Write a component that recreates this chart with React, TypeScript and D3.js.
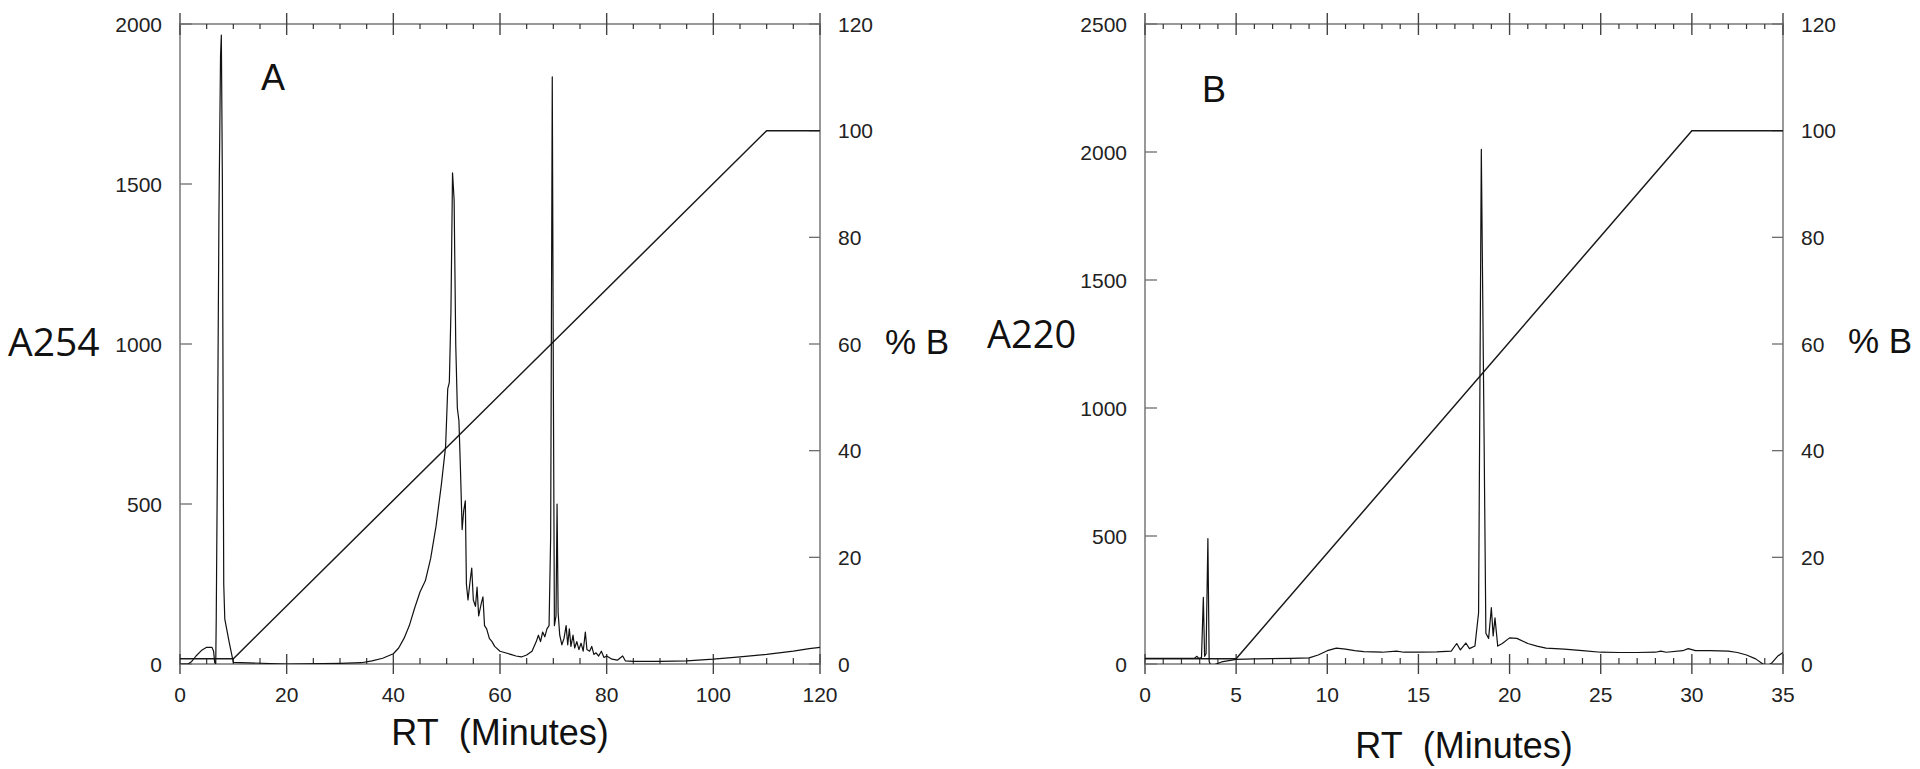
import React, { useEffect, useRef } from 'react';
import * as d3 from 'd3';

// ---- Panel A (A254, 0-120 min) ----
const timeA = [
  0, 1.5, 2.2, 3.0, 4.0, 5.0, 6.0, 6.3, 6.5, 6.7, 6.8, 7.0, 7.3, 7.6, 7.75, 7.95, 8.1, 8.2, 8.4, 9.2, 10.0,
  20, 30, 34, 36, 38, 40, 41, 42, 43, 44, 45, 46, 47, 48, 49, 49.8, 50.2, 50.5, 50.8, 51.1, 51.4, 51.7,
  52.0, 52.3, 52.6, 52.9, 53.2, 53.5, 53.7, 54.0, 54.4, 54.7, 55.0, 55.4, 55.7, 56.0, 56.5, 56.8, 57.1,
  57.5, 58.0, 58.5, 59.0, 60, 61, 62, 63, 64, 65, 66, 66.8, 67.2, 67.6, 68.0, 68.4, 68.8, 69.2, 69.5,
  69.8, 70.0, 70.2, 70.5, 70.7, 70.9, 71.2, 71.6, 72.0, 72.4, 72.7, 73.0, 73.3, 73.7, 74.0, 74.4, 74.8,
  75.2, 75.6, 76.0, 76.3, 76.8, 77.2, 77.6, 78.0, 78.5, 79.0, 79.5, 80, 81, 82, 83, 83.5, 85, 90, 95,
  100, 105, 110, 115, 118, 120,
];
const absA = [
  0, 0, 8, 25, 42, 52, 52, 40, 5, 0, 150, 600, 1400, 1900, 1965, 1500, 700, 250, 140, 70, 5,
  0, 2, 4, 10, 18, 32, 50, 80, 120, 175, 225, 260, 330, 430, 560, 680, 860, 880, 1100, 1535, 1450, 1000,
  800, 760, 600, 420, 480, 510, 250, 200, 260, 300, 200, 180, 240, 150, 190, 210, 120,
  110, 80, 70, 55, 40, 35, 30, 25, 22, 28, 40, 70, 90, 70, 100, 85, 110, 120, 400,
  1835, 900, 120, 150, 500, 160, 90, 60, 80, 120, 60, 110, 55, 90, 50, 70, 45,
  65, 40, 100, 45, 40, 55, 30, 35, 25, 40, 20, 25, 15, 12, 25, 10, 8, 8, 10,
  15, 22, 30, 40, 48, 52,
];
const gradTimeA = [0, 10, 110, 120];
const gradPctA = [1, 1, 100, 100];
const xTicksA = [0, 20, 40, 60, 80, 100, 120];
const yTicksA = [0, 500, 1000, 1500, 2000];

// ---- Panel B (A220, 0-35 min) ----
const timeB = [
  0, 2.7, 2.85, 2.95, 3.1, 3.2, 3.27, 3.35, 3.45, 3.52, 3.6, 3.8, 4.2, 5.0, 6.0, 8.0, 9.0, 9.5, 10.0,
  10.5, 11.0, 11.5, 12.0, 13.0, 13.8, 14.2, 15.0, 16.0, 16.8, 17.1, 17.3, 17.6, 17.8, 18.1, 18.3, 18.45,
  18.6, 18.7, 18.85, 19.0, 19.1, 19.2, 19.35, 19.6, 20.0, 20.4, 21.0, 21.5, 22.0, 23.0, 24.0, 25.0, 26.0,
  27.0, 28.0, 28.3, 28.6, 29.5, 29.8, 30.2, 31.0, 32.0, 32.5, 33.0, 33.5, 33.9, 34.2, 34.4, 34.7, 35.0,
];
const absB = [
  22, 22, 30, 22, 25, 260, 30, 40, 490, 10, -5, -3, 8, 18, 20, 22, 24, 35, 52,
  62, 58, 52, 48, 46, 50, 46, 46, 47, 50, 80, 55, 82, 60, 70, 200, 2010,
  900, 120, 100, 220, 110, 180, 70, 80, 102, 100, 80, 70, 62, 58, 52, 46, 45,
  45, 46, 50, 46, 52, 60, 52, 52, 50, 45, 35, 20, 0, -5, 5, 30, 45,
];
const gradTimeB = [0, 5, 30, 35];
const gradPctB = [1, 1, 100, 100];
const xTicksB = [0, 5, 10, 15, 20, 25, 30, 35];
const yTicksB = [0, 500, 1000, 1500, 2000, 2500];

const pctTicks = [0, 20, 40, 60, 80, 100, 120];

const tickFont = '"Liberation Sans", Arial, sans-serif';
const axisColor = '#6e6e6e';

function drawPanel(root, p) {
  const x = d3.scaleLinear().domain([0, p.xMax]).range([p.left, p.right]);
  const y = d3.scaleLinear().domain([0, p.yMax]).range([p.bottom, p.top]);
  const y2 = d3.scaleLinear().domain([0, 120]).range([p.bottom, p.top]);
  const g = root.append('g');

  g.append('clipPath').attr('id', 'clip-' + p.id)
    .append('rect')
    .attr('x', p.left).attr('y', p.top)
    .attr('width', p.right - p.left).attr('height', p.bottom - p.top);

  // frame
  g.append('rect')
    .attr('x', p.left).attr('y', p.top)
    .attr('width', p.right - p.left).attr('height', p.bottom - p.top)
    .attr('fill', 'none').attr('stroke', axisColor).attr('stroke-width', 1.4);

  // minor x ticks, top and bottom
  const minor = d3.range(0, p.xMax + 0.001, p.xMinor).filter(t => t % p.xMajor !== 0);
  g.selectAll('.minb').data(minor).enter().append('line')
    .attr('x1', d => x(d)).attr('x2', d => x(d))
    .attr('y1', p.bottom).attr('y2', p.bottom - 6)
    .attr('stroke', '#333').attr('stroke-width', 1.2);
  g.selectAll('.mint').data(minor).enter().append('line')
    .attr('x1', d => x(d)).attr('x2', d => x(d))
    .attr('y1', p.top).attr('y2', p.top + 5)
    .attr('stroke', '#333').attr('stroke-width', 1.2);

  // major x ticks cross the line
  g.selectAll('.majb').data(p.xTicks).enter().append('line')
    .attr('x1', d => x(d)).attr('x2', d => x(d))
    .attr('y1', p.bottom - 10).attr('y2', p.bottom + 10)
    .attr('stroke', '#444').attr('stroke-width', 1.4);
  g.selectAll('.majt').data(p.xTicks).enter().append('line')
    .attr('x1', d => x(d)).attr('x2', d => x(d))
    .attr('y1', p.top - 11).attr('y2', p.top + 11)
    .attr('stroke', '#444').attr('stroke-width', 1.4);

  // y ticks
  g.selectAll('.yl').data(p.yTicks).enter().append('line')
    .attr('x1', p.left).attr('x2', p.left + 12)
    .attr('y1', d => y(d)).attr('y2', d => y(d))
    .attr('stroke', axisColor).attr('stroke-width', 1.3);
  g.selectAll('.yr').data(pctTicks).enter().append('line')
    .attr('x1', p.right - 11).attr('x2', p.right)
    .attr('y1', d => y2(d)).attr('y2', d => y2(d))
    .attr('stroke', axisColor).attr('stroke-width', 1.3);

  // tick labels
  g.selectAll('.xlab').data(p.xTicks).enter().append('text')
    .attr('x', d => x(d)).attr('y', 702)
    .attr('text-anchor', 'middle')
    .style('font-family', tickFont).style('font-size', '21px').attr('fill', '#222')
    .text(d => d);
  g.selectAll('.ylab').data(p.yTicks).enter().append('text')
    .attr('x', p.left - 18).attr('y', d => y(d) + 7.5)
    .attr('text-anchor', 'end')
    .style('font-family', tickFont).style('font-size', '21px').attr('fill', '#222')
    .text(d => d);
  g.selectAll('.y2lab').data(pctTicks).enter().append('text')
    .attr('x', p.right + 18).attr('y', d => y2(d) + 7.5)
    .attr('text-anchor', 'start')
    .style('font-family', tickFont).style('font-size', '21px').attr('fill', '#222')
    .text(d => d);

  // gradient line (% B)
  const grad = d3.line()
    .x((d, i) => x(p.gradTime[i]))
    .y(d => y2(d));
  g.append('path').datum(p.gradPct)
    .attr('d', grad)
    .attr('fill', 'none').attr('stroke', '#1a1a1a').attr('stroke-width', 1.5);

  // absorbance trace
  const trace = d3.line()
    .x((d, i) => x(p.time[i]))
    .y(d => y(d));
  g.append('path').datum(p.abs)
    .attr('d', trace)
    .attr('clip-path', 'url(#clip-' + p.id + ')')
    .attr('fill', 'none').attr('stroke', '#111').attr('stroke-width', 1.2)
    .attr('stroke-linejoin', 'round');

  // labels
  g.append('text')
    .attr('x', p.letterX).attr('y', p.letterY)
    .attr('text-anchor', 'middle')
    .style('font-family', tickFont).style('font-size', '36px').attr('fill', '#111')
    .text(p.letter);
  g.append('text')
    .attr('x', (p.left + p.right) / 2).attr('y', p.xLabelY)
    .attr('text-anchor', 'middle')
    .style('font-family', tickFont).style('font-size', '36px').attr('fill', '#111')
    .style('white-space', 'pre')
    .text('RT\u00a0\u00a0(Minutes)');
  g.append('text')
    .attr('x', p.yLabelX).attr('y', p.yLabelY)
    .style('font-family', '"Open Sans", "Noto Sans", sans-serif').style('font-size', p.yLabelSize + 'px')
    .attr('fill', '#111')
    .text(p.yLabel);
  g.append('text')
    .attr('x', p.pctLabelX).attr('y', p.pctLabelY)
    .style('font-family', tickFont).style('font-size', '35px').attr('fill', '#111')
    .text('% B');
}

export default function App() {
  const ref = useRef(null);

  useEffect(() => {
    const svg = d3.select(ref.current);
    svg.selectAll('*').remove();

    drawPanel(svg, {
      id: 'a', left: 180, right: 820, top: 24, bottom: 664,
      xMax: 120, xMajor: 20, xMinor: 5, xTicks: xTicksA,
      yMax: 2000, yTicks: yTicksA,
      time: timeA, abs: absA, gradTime: gradTimeA, gradPct: gradPctA,
      letter: 'A', letterX: 273, letterY: 90,
      xLabelY: 745,
      yLabel: 'A254', yLabelX: 8, yLabelY: 356, yLabelSize: 39,
      pctLabelX: 885, pctLabelY: 354,
    });

    drawPanel(svg, {
      id: 'b', left: 1145, right: 1783, top: 24, bottom: 664,
      xMax: 35, xMajor: 5, xMinor: 1, xTicks: xTicksB,
      yMax: 2500, yTicks: yTicksB,
      time: timeB, abs: absB, gradTime: gradTimeB, gradPct: gradPctB,
      letter: 'B', letterX: 1214, letterY: 102,
      xLabelY: 758,
      yLabel: 'A220', yLabelX: 987, yLabelY: 348, yLabelSize: 38,
      pctLabelX: 1848, pctLabelY: 353,
    });
  }, []);

  return (
    <svg
      ref={ref}
      width={1920}
      height={769}
      style={{ position: 'absolute', left: 0, top: 0, background: '#fff' }}
    />
  );
}
